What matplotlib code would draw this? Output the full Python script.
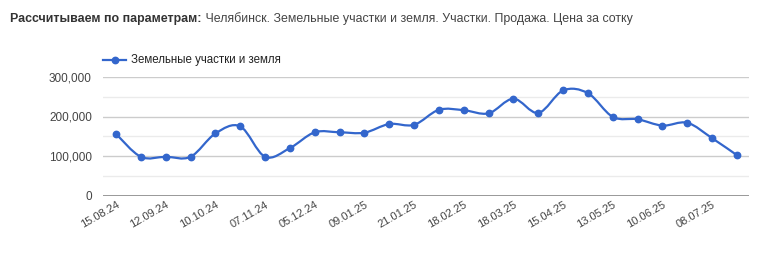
import numpy as np
import matplotlib
matplotlib.use("Agg")
import matplotlib.pyplot as plt
from matplotlib.path import Path
from matplotlib.patches import PathPatch
from matplotlib.lines import Line2D

plt.rcParams['font.family'] = ['Liberation Sans', 'DejaVu Sans']

series_name = "Земельные участки и земля"
values = [156000, 98000, 98000, 98000, 157000, 175000, 98000, 120000, 160000, 160000,
          159000, 181000, 179000, 217000, 216000, 208000, 245000, 209000, 266000, 259000,
          199000, 193000, 177000, 184000, 145000, 102000]
tick_labels = ["15.08.24", "12.09.24", "10.10.24", "07.11.24", "05.12.24", "09.01.25",
               "21.01.25", "18.02.25", "18.03.25", "15.04.25", "13.05.25", "10.06.25",
               "08.07.25"]
y_ticks = [0, 100000, 200000, 300000]

LINE = "#3366cc"
W, H = 760, 266
fig = plt.figure(figsize=(W / 100, H / 100), dpi=100)
fig.patch.set_facecolor("white")

# plot area in pixels
left, right, top, bottom = 103, 749, 77, 195.5
ax = fig.add_axes([left / W, 1 - bottom / H, (right - left) / W, (bottom - top) / H])

n = len(values)
x = np.arange(n)
y = np.array(values, dtype=float)
x0 = 116 - left
step = (737 - 116) / (n - 1)
span = (right - left) / step
ax.set_xlim(-x0 / step, -x0 / step + span)
ax.set_ylim(0, 300000)

# gridlines
for v in range(50000, 300001, 50000):
    c = "#cccccc" if v % 100000 == 0 else "#ebebeb"
    ax.axhline(v, color=c, lw=1, zorder=0)
ax.axhline(0, color="#888888", lw=1.2, zorder=1)

# smooth curve through the points (cubic Bezier, Catmull-Rom style tangents)
f = 1 / 6
verts = [(x[0], y[0])]
codes = [Path.MOVETO]
for i in range(n - 1):
    p0 = np.array([x[max(i - 1, 0)], y[max(i - 1, 0)]])
    p1 = np.array([x[i], y[i]])
    p2 = np.array([x[i + 1], y[i + 1]])
    p3 = np.array([x[min(i + 2, n - 1)], y[min(i + 2, n - 1)]])
    c1 = p1 + (p2 - p0) * f
    c2 = p2 - (p3 - p1) * f
    verts += [tuple(c1), tuple(c2), tuple(p2)]
    codes += [Path.CURVE4] * 3
ax.add_patch(PathPatch(Path(verts, codes), fill=False, edgecolor=LINE, lw=1.6,
                       zorder=3, capstyle="round", joinstyle="round"))
ax.plot(x, y, "o", color=LINE, ms=4.6, zorder=4, clip_on=False)

for s in ax.spines.values():
    s.set_visible(False)
ax.set_yticks(y_ticks)
ax.set_yticklabels([f"{v:,}" for v in y_ticks])
ax.tick_params(axis="y", length=0, pad=8, labelsize=8.5, labelcolor="#444444")
ax.set_xticks(x[::2])
ax.set_xticklabels(tick_labels, rotation=30, ha="right", va="top",
                   rotation_mode="anchor")
ax.tick_params(axis="x", length=0, pad=3, labelsize=8, labelcolor="#444444")

# legend
lx0, lx1, ly = 103 / W, 126 / W, 1 - 60 / H
fig.add_artist(Line2D([lx0, lx1], [ly, ly], color=LINE, lw=1.6,
                      transform=fig.transFigure))
fig.add_artist(Line2D([(lx0 + lx1) / 2], [ly], color=LINE, marker="o", ms=4.6,
                      transform=fig.transFigure))
fig.text(131 / W, ly, series_name, fontsize=8.3, color="#222222", va="center",
         ha="left")

# title
t1 = fig.text(10 / W, 1 - 19 / H, "Рассчитываем по параметрам:", fontsize=8.9,
              fontweight="bold", color="#333333", va="center", ha="left")
fig.canvas.draw()
ax.annotate(" Челябинск. Земельные участки и земля. Участки. Продажа. Цена за сотку",
            xy=(1, 0), xycoords=t1, va="bottom", ha="left", fontsize=8.9,
            color="#444444", annotation_clip=False)

fig.savefig("out.png", dpi=100, facecolor="white")
